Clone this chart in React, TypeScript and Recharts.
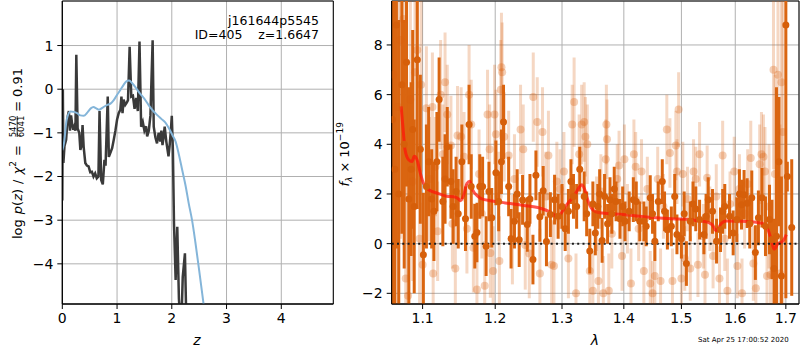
import React from 'react';
import {
  ComposedChart,
  Line,
  Scatter,
  ErrorBar,
  XAxis,
  YAxis,
  CartesianGrid,
  ReferenceLine,
  ReferenceArea,
} from 'recharts';

const FONT = '"DejaVu Sans", Verdana, sans-serif';

// ---- Left panel: log p(z) ----
const pzZ = [0.0, 0.01, 0.02, 0.04, 0.07, 0.1, 0.12, 0.14, 0.16, 0.18, 0.2, 0.22, 0.24, 0.256, 0.28, 0.31, 0.33, 0.35, 0.37, 0.39, 0.42, 0.45, 0.48, 0.51, 0.54, 0.57, 0.6, 0.63, 0.66, 0.68, 0.71, 0.74, 0.77, 0.79, 0.83, 0.85, 0.88, 0.91, 0.94, 0.97, 1.0, 1.03, 1.06, 1.08, 1.1, 1.12, 1.15, 1.18, 1.2, 1.23, 1.26, 1.29, 1.32, 1.35, 1.38, 1.41, 1.44, 1.47, 1.5, 1.53, 1.55, 1.58, 1.61, 1.65, 1.67, 1.7, 1.73, 1.76, 1.79, 1.81, 1.83, 1.85, 1.87, 1.9, 1.94, 1.96, 1.98, 2.0, 2.02, 2.04, 2.07, 2.1, 2.13, 2.17, 2.2, 2.24, 2.27, 2.35];
const pzLog = [-2.55, 0.0, -1.69, -1.3, -1.16, -0.62, -0.5, -0.95, -0.6, -0.8, -0.93, -0.85, -0.95, 0.79, -0.9, -1.0, -1.39, -1.3, -0.82, -1.32, -1.69, -1.75, -1.77, -1.9, -1.89, -2.0, -1.93, -2.04, -2.0, -0.5, -2.08, -2.18, -1.62, -1.75, -0.17, -1.55, -1.45, -1.35, -1.16, -0.95, -0.7, -0.55, -0.47, -0.17, -0.55, -0.24, -0.36, -0.3, -0.25, 0.97, -0.17, -0.15, -0.45, -0.2, -0.5, 1.09, -0.86, -0.75, -0.95, -0.85, -1.08, -0.95, -0.6, 1.12, -0.86, -1.1, -1.24, -1.0, -1.2, -0.95, -1.28, -1.1, -0.86, -1.2, -1.54, -1.3, -1.0, -0.61, -1.4, -3.07, -4.37, -3.15, -4.8, -5.6, -4.3, -3.76, -5.6, -6.0];

const fitZ = [0.0, 0.03, 0.08, 0.15, 0.21, 0.27, 0.33, 0.39, 0.46, 0.52, 0.57, 0.62, 0.67, 0.74, 0.82, 0.88, 0.94, 1.0, 1.06, 1.12, 1.17, 1.22, 1.28, 1.35, 1.42, 1.5, 1.58, 1.66, 1.74, 1.81, 1.88, 1.95, 2.01, 2.07, 2.13, 2.19, 2.25, 2.31, 2.37, 2.43, 2.5, 2.58, 2.64];
const fitLog = [-1.4, -1.24, -0.7, -0.51, -0.52, -0.55, -0.6, -0.61, -0.53, -0.44, -0.41, -0.44, -0.47, -0.42, -0.36, -0.33, -0.25, -0.13, -0.02, 0.1, 0.18, 0.2, 0.13, 0.02, -0.1, -0.22, -0.37, -0.5, -0.6, -0.68, -0.76, -0.9, -1.05, -1.2, -1.5, -1.85, -2.2, -2.62, -3.0, -3.5, -4.15, -4.92, -5.5];

const zTicks = [0, 1, 2, 3, 4];
const pTicks = [-4, -3, -2, -1, 0, 1];

// ---- Right panel: spectrum ----
const darkLam = [1.061, 1.064, 1.066, 1.069, 1.073, 1.076, 1.079, 1.082, 1.085, 1.087, 1.089, 1.093, 1.097, 1.101, 1.105, 1.108, 1.112, 1.115, 1.119, 1.122, 1.127, 1.13, 1.133, 1.138, 1.141, 1.145, 1.148, 1.153, 1.158, 1.163, 1.166, 1.171, 1.174, 1.178, 1.182, 1.187, 1.191, 1.195, 1.201, 1.205, 1.209, 1.212, 1.2195, 1.223, 1.228, 1.232, 1.235, 1.24, 1.247, 1.251, 1.2555, 1.26, 1.266, 1.271, 1.276, 1.282, 1.2885, 1.294, 1.3, 1.305, 1.31, 1.314, 1.318, 1.323, 1.328, 1.335, 1.339, 1.344, 1.349, 1.353, 1.357, 1.36, 1.364, 1.368, 1.373, 1.377, 1.38, 1.384, 1.387, 1.3935, 1.398, 1.402, 1.409, 1.416, 1.421, 1.427, 1.434, 1.438, 1.445, 1.449, 1.453, 1.459, 1.466, 1.47, 1.475, 1.482, 1.488, 1.492, 1.5, 1.505, 1.509, 1.516, 1.521, 1.526, 1.533, 1.541, 1.545, 1.549, 1.557, 1.5645, 1.572, 1.576, 1.58, 1.589, 1.596, 1.603, 1.608, 1.612, 1.617, 1.623, 1.628, 1.632, 1.639, 1.645, 1.652, 1.659, 1.667, 1.672, 1.676, 1.681, 1.686, 1.691, 1.7, 1.703, 1.712];
const darkFlux = [5.0, 3.0, 8.8, 2.0, 6.4, 4.0, 7.3, 1.8, 3.0, 4.6, 1.5, 7.4, 3.8, -0.45, 2.3, 3.3, 1.8, 1.3, 3.3, 5.8, 1.7, 2.6, 3.9, 2.5, 1.5, 2.1, 1.2, 3.3, 1.0, 4.8, 2.3, 0.3, 0.45, 2.3, 2.3, -0.1, 2.1, 1.04, 2.85, 1.7, 3.3, 4.9, 2.3, 0.2, 0.9, 2.0, 0.16, 1.76, 0.77, 1.8, -0.64, 2.75, 1.08, 2.13, 0.09, 1.17, 1.77, 1.1, 1.5, 0.6, 1.3, 2.5, 1.9, 1.5, 3.0, 1.9, 1.2, -0.3, 1.6, 0.43, 1.5, 2.0, 0.13, 1.9, 0.8, 1.77, 1.2, 2.2, 1.7, 1.0, 1.5, 0.9, 1.3, 1.77, 1.7, 0.9, 0.9, 0.7, 1.85, 1.2, 0.1, 1.7, 2.5, 1.3, 0.56, 0.7, 1.9, 0.37, 0.2, 1.2, -0.8, 0.9, 1.6, 1.4, 0.97, 0.37, 1.1, 1.77, 1.3, 0.1, 0.56, 1.3, 1.5, 1.1, 0.43, 0.97, 2.0, 1.57, 1.97, 1.63, 0.8, 1.85, -0.36, 1.04, 1.85, 0.7, 0.97, 0.17, -1.0, 0.3, 3.3, -1.3, 8.8, 2.7, 0.65];
const darkErr = [8, 9, 9, 7, 6, 5, 5, 4.5, 3.5, 4, 3.5, 6, 3, 2.5, 2.5, 2.2, 2, 2, 2, 1.7, 1.8, 1.8, 1.6, 1.5, 1.5, 1.4, 1.4, 1.5, 1.3, 1.6, 1.3, 1.3, 1.2, 1.3, 1.2, 1.2, 1.2, 1.2, 1.3, 1.2, 1.3, 1.5, 1.2, 1.2, 1.1, 1.0, 1.1, 1.0, 1.1, 1.0, 1.0, 1.0, 1.0, 1.0, 1.0, 0.9, 1.0, 0.9, 0.9, 0.9, 0.9, 0.9, 0.9, 0.9, 0.9, 1.0, 0.9, 0.9, 0.9, 0.9, 0.9, 1.0, 0.9, 0.9, 0.8, 0.9, 0.8, 0.9, 0.8, 0.8, 0.8, 0.8, 0.8, 0.9, 0.8, 0.8, 0.8, 0.8, 0.9, 0.8, 0.8, 0.8, 0.9, 0.8, 0.8, 0.8, 0.9, 0.8, 0.8, 0.9, 0.9, 0.8, 0.9, 0.9, 0.8, 0.8, 0.9, 0.9, 0.9, 0.9, 0.9, 0.9, 0.9, 0.9, 0.9, 0.9, 1.0, 1.0, 1.0, 1.0, 1.0, 1.1, 1.1, 1.1, 1.2, 1.2, 1.4, 1.6, 2.0, 6, 2.6, 4, 11, 0.6, 2.75];

const lightLam = [1.062, 1.068, 1.071, 1.075, 1.078, 1.081, 1.084, 1.087, 1.09, 1.093, 1.096, 1.098, 1.1, 1.105, 1.109, 1.113, 1.114, 1.117, 1.12, 1.124, 1.127, 1.13, 1.133, 1.138, 1.14, 1.144, 1.147, 1.152, 1.156, 1.16, 1.163, 1.166, 1.169, 1.174, 1.177, 1.181, 1.185, 1.189, 1.192, 1.193, 1.197, 1.199, 1.201, 1.205, 1.206, 1.208, 1.209, 1.21, 1.213, 1.2195, 1.225, 1.228, 1.237, 1.241, 1.244, 1.25, 1.256, 1.262, 1.266, 1.27, 1.275, 1.279, 1.284, 1.2875, 1.292, 1.297, 1.303, 1.31, 1.316, 1.319, 1.322, 1.327, 1.331, 1.335, 1.337, 1.34, 1.344, 1.349, 1.355, 1.358, 1.362, 1.366, 1.37, 1.371, 1.372, 1.375, 1.38, 1.389, 1.392, 1.397, 1.401, 1.406, 1.412, 1.417, 1.42, 1.425, 1.43, 1.434, 1.44, 1.445, 1.449, 1.453, 1.458, 1.463, 1.468, 1.474, 1.4795, 1.484, 1.49, 1.492, 1.495, 1.5, 1.5025, 1.506, 1.511, 1.516, 1.522, 1.526, 1.53, 1.533, 1.54, 1.543, 1.547, 1.552, 1.558, 1.564, 1.57, 1.576, 1.58, 1.585, 1.59, 1.598, 1.604, 1.608, 1.613, 1.618, 1.624, 1.63, 1.635, 1.64, 1.6475, 1.651, 1.655, 1.658, 1.662, 1.666, 1.669, 1.675, 1.678, 1.684, 1.688, 1.691, 1.694];
const lightFlux = [6.8, 5.5, 8.2, 9.05, -1.4, -2.1, 5.8, 2.5, 6.9, 7.8, 0.2, 6.4, -0.85, 5.45, 2.6, 5.5, -1.2, 3.1, 0.5, 6.0, 3.6, 6.5, 5.2, 3.95, 0.8, -1.0, 4.35, 4.3, 3.5, 0.6, 6.0, 4.8, -0.17, -1.85, 2.8, 1.2, -1.7, 5.2, 3.8, -0.38, -1.1, 5.2, 4.4, 1.9, -0.7, 6.2, 7.1, 6.9, 4.3, 3.55, 0.16, 2.6, 4.6, 3.8, -0.05, -0.4, 5.9, 4.9, -1.2, 4.5, 1.9, 3.55, -0.85, -0.9, 2.5, 2.2, 2.9, -0.6, 4.8, 5.7, -2.0, 3.6, 4.8, 4.9, 4.3, 4.0, -1.1, -1.9, 1.2, -1.5, 2.1, -2.0, 3.4, 4.8, 4.2, -1.9, 0.4, 2.6, 3.15, -0.5, 3.4, 1.0, -1.6, 3.6, 3.1, 0.6, 2.9, -1.1, 2.2, -1.6, -2.0, -1.3, 2.6, -1.5, 1.5, 4.6, 3.65, -1.5, 3.95, 2.9, 5.4, -1.4, 2.8, -0.6, 1.8, -1.0, 2.9, 2.6, -0.85, 3.6, 0.3, -1.25, 2.65, 1.0, -0.5, 1.9, -1.4, 3.55, 0.2, -1.9, 1.6, 2.9, -0.9, 2.2, -2.0, 1.2, 2.4, 3.45, -0.8, -1.8, 3.2, 3.6, 3.5, 2.9, -1.3, 1.5, -1.25, 7.0, 2.8, 6.8, -1.2, 6.5, 4.5];
const lightErr = [9, 8, 8, 7, 5, 5, 4, 4, 4, 4, 3, 3.5, 2.5, 2.5, 2.5, 2.2, 2.2, 2, 2, 2.2, 2, 2, 2, 2, 1.8, 2, 2, 2, 1.8, 1.8, 2, 1.8, 1.8, 1.8, 1.8, 1.8, 1.8, 1.8, 1.8, 1.8, 1.8, 2, 1.8, 1.8, 1.8, 2, 2.2, 2, 1.8, 1.8, 1.8, 1.8, 1.8, 1.8, 1.8, 1.8, 1.8, 1.8, 1.8, 1.8, 1.8, 1.8, 1.8, 1.8, 1.6, 1.6, 1.6, 1.6, 1.6, 1.8, 1.6, 1.6, 1.6, 1.6, 1.6, 1.6, 1.6, 1.6, 1.5, 1.5, 1.5, 1.5, 1.6, 1.6, 1.6, 1.5, 1.4, 1.4, 1.4, 1.4, 1.4, 1.4, 1.4, 1.4, 1.4, 1.3, 1.3, 1.3, 1.3, 1.3, 1.3, 1.3, 1.3, 1.3, 1.3, 1.4, 1.4, 1.3, 1.4, 1.3, 1.5, 1.3, 1.3, 1.3, 1.3, 1.3, 1.3, 1.3, 1.3, 1.3, 1.3, 1.3, 1.3, 1.3, 1.3, 1.3, 1.3, 1.4, 1.3, 1.3, 1.3, 1.4, 1.3, 1.4, 1.4, 1.4, 1.4, 1.5, 1.5, 1.5, 1.6, 1.7, 1.7, 1.8, 2, 2.5, 3, 4, 4, 6, 6, 7, 8];

const modelLam = [1.072, 1.075, 1.077, 1.0817, 1.0862, 1.089, 1.0927, 1.097, 1.101, 1.108, 1.119, 1.132, 1.1435, 1.148, 1.151, 1.155, 1.16, 1.164, 1.168, 1.175, 1.181, 1.193, 1.2145, 1.2415, 1.266, 1.2795, 1.287, 1.2925, 1.297, 1.3075, 1.32, 1.328, 1.331, 1.336, 1.3415, 1.352, 1.364, 1.3985, 1.427, 1.455, 1.483, 1.515, 1.524, 1.539, 1.552, 1.558, 1.563, 1.567, 1.574, 1.583, 1.6085, 1.641, 1.654, 1.664, 1.6705, 1.676, 1.684, 1.694, 1.701];
const modelFlux = [5.53, 4.46, 3.79, 3.38, 3.31, 3.52, 3.38, 2.84, 2.44, 2.17, 2.04, 1.91, 1.88, 1.81, 1.73, 1.91, 2.42, 2.51, 2.17, 1.91, 1.8, 1.73, 1.64, 1.54, 1.43, 1.3, 1.17, 1.07, 1.17, 1.57, 1.97, 2.3, 2.37, 2.17, 1.7, 1.3, 1.23, 1.17, 1.1, 1.04, 1.0, 0.97, 0.94, 0.9, 0.83, 0.72, 0.52, 0.59, 0.83, 0.91, 0.9, 0.86, 0.81, 0.56, 0.16, -0.22, 0.0, 0.1, 0.36];

const lamTicks = [1.1, 1.2, 1.3, 1.4, 1.5, 1.6, 1.7];
const fluxTicks = [-2, 0, 2, 4, 6, 8];

const Z_DOMAIN: [number, number] = [0, 4.95];
const P_DOMAIN: [number, number] = [-4.92, 2.02];
const L_DOMAIN: [number, number] = [1.06, 1.727];
const F_DOMAIN: [number, number] = [-2.43, 9.77];

// right chart layout
const R_W = 460;
const R_H = 350;
const R_MARGIN = { top: 1, right: 1, bottom: 16, left: 21.7 };
const R_YAXIS_W = 30;
const R_XAXIS_H = 30;
const R_PLOT = {
  x: R_MARGIN.left + R_YAXIS_W,
  y: R_MARGIN.top,
  w: R_W - R_MARGIN.left - R_YAXIS_W - R_MARGIN.right,
  h: R_H - R_MARGIN.top - R_MARGIN.bottom - R_XAXIS_H,
};

const minusFmt = (v: number) => (v < 0 ? '\u2212' + Math.abs(v) : String(v));
const tickStyle = { fill: '#000', fontSize: 14, fontFamily: FONT };

const lightDot = (p: any) => (
  <circle cx={p.cx} cy={p.cy} r={4} fill="rgba(217,95,14,0.3)" />
);
const darkDot = (p: any) => (
  <circle cx={p.cx} cy={p.cy} r={3.5} fill="#d65f0a" />
);

export default function App() {
  const pzData = pzZ.map((z, i) => ({ z, v: pzLog[i] }));
  const fitData = fitZ.map((z, i) => ({ z, v: fitLog[i] }));
  const darkData = darkLam.map((lam, i) => ({ lam, f: darkFlux[i], e: darkErr[i] }));
  const lightData = lightLam.map((lam, i) => ({ lam, f: lightFlux[i], e: lightErr[i] }));
  const modelData = modelLam.map((lam, i) => ({ lam, f: modelFlux[i] }));

  return (
    <div style={{ position: 'absolute', left: 0, top: 0, width: 800, height: 350, background: '#fff', fontFamily: FONT }}>
      <style>{`.spec .recharts-errorBars, .spec .recharts-errorBar { clip-path: url(#specClip); }`}</style>
      <svg width={0} height={0} style={{ position: 'absolute' }}>
        <defs>
          <clipPath id="specClip" clipPathUnits="userSpaceOnUse">
            <rect x={R_PLOT.x} y={R_PLOT.y} width={R_PLOT.w} height={R_PLOT.h} />
          </clipPath>
        </defs>
      </svg>

      <div style={{ position: 'absolute', left: 0, top: 0 }}>
        <ComposedChart width={340} height={350} margin={{ top: 1, right: 6.7, bottom: 16, left: 12.3 }}>
          <CartesianGrid stroke="#b0b0b0" strokeWidth={1} />
          <XAxis
            dataKey="z"
            type="number"
            domain={Z_DOMAIN}
            ticks={zTicks}
            allowDataOverflow
            height={30}
            tickSize={5}
            tickMargin={4}
            tick={tickStyle}
            stroke="#000"
          />
          <YAxis
            type="number"
            domain={P_DOMAIN}
            ticks={pTicks}
            allowDataOverflow
            width={50}
            tickSize={5}
            tickMargin={4}
            tick={tickStyle}
            tickFormatter={minusFmt}
            stroke="#000"
          />
          <Line data={pzData} dataKey="v" type="linear" stroke="#3a3a3a" strokeWidth={2.5} dot={false} isAnimationActive={false} />
          <Line data={fitData} dataKey="v" type="monotone" stroke="#84b5d9" strokeWidth={2} dot={false} isAnimationActive={false} />
          <ReferenceArea x1={Z_DOMAIN[0]} x2={Z_DOMAIN[1]} y1={P_DOMAIN[0]} y2={P_DOMAIN[1]} fill="none" fillOpacity={0} stroke="#000" strokeWidth={1} ifOverflow="visible" />
        </ComposedChart>
      </div>

      <div className="spec" style={{ position: 'absolute', left: 340, top: 0 }}>
        <ComposedChart width={R_W} height={R_H} margin={R_MARGIN}>
          <CartesianGrid stroke="#b0b0b0" strokeWidth={1} />
          <XAxis
            dataKey="lam"
            type="number"
            scale="log"
            domain={L_DOMAIN}
            ticks={lamTicks}
            allowDataOverflow
            height={R_XAXIS_H}
            tickSize={5}
            tickMargin={4}
            tick={tickStyle}
            tickFormatter={(v: number) => v.toFixed(1)}
            stroke="#000"
          />
          <YAxis
            type="number"
            domain={F_DOMAIN}
            ticks={fluxTicks}
            allowDataOverflow
            width={R_YAXIS_W}
            tickSize={5}
            tickMargin={4}
            tick={tickStyle}
            tickFormatter={minusFmt}
            stroke="#000"
          />
          <Scatter data={lightData} dataKey="f" shape={lightDot} isAnimationActive={false}>
            <ErrorBar dataKey="e" direction="y" width={0} stroke="rgba(217,95,14,0.25)" strokeWidth={3} />
          </Scatter>
          <Scatter data={darkData} dataKey="f" shape={darkDot} isAnimationActive={false}>
            <ErrorBar dataKey="e" direction="y" width={0} stroke="#da6510" strokeWidth={3} />
          </Scatter>
          <Line data={modelData} dataKey="f" type="monotone" stroke="rgba(255,20,10,0.72)" strokeWidth={3} dot={false} isAnimationActive={false} />
          <ReferenceLine y={0} stroke="#1a1a1a" strokeWidth={2} strokeDasharray="2 3.3" />
          <ReferenceArea x1={L_DOMAIN[0]} x2={L_DOMAIN[1]} y1={F_DOMAIN[0]} y2={F_DOMAIN[1]} fill="none" fillOpacity={0} stroke="#000" strokeWidth={1} ifOverflow="visible" />
        </ComposedChart>
      </div>

      <svg width={800} height={350} style={{ position: 'absolute', left: 0, top: 0, pointerEvents: 'none' }} fontFamily={FONT}>
        <text x={319} y={24.5} textAnchor="end" fontSize={12.5} fill="#000">j161644p5545</text>
        <text x={319} y={38.5} textAnchor="end" fontSize={12.5} fill="#000" style={{ whiteSpace: 'pre' }}>ID=405    z=1.6647</text>
        <text x={197} y={345} textAnchor="middle" fontSize={14} fontStyle="italic" fill="#000">z</text>
        <text x={595} y={345} textAnchor="middle" fontSize={14} fontStyle="italic" fill="#000">λ</text>
        <text x={698} y={342} fontSize={7} fill="#000">Sat Apr 25 17:00:52 2020</text>

        <g transform="translate(21.5,153) rotate(-90)">
          <text x={-86} y={0} fontSize={13} fill="#000">
            <tspan>log</tspan>
            <tspan dx={5} fontStyle="italic">p</tspan>
            <tspan>(</tspan>
            <tspan fontStyle="italic">z</tspan>
            <tspan>)</tspan>
            <tspan dx={5}>/</tspan>
            <tspan dx={5} fontStyle="italic">χ</tspan>
            <tspan fontSize={9} dy={-6}>2</tspan>
            <tspan dy={6} dx={5}>=</tspan>
          </text>
          <text x={26.5} y={-5.5} fontSize={8.5} textAnchor="middle" fill="#000">5470</text>
          <line x1={16} x2={37} y1={-4.3} y2={-4.3} stroke="#000" strokeWidth={0.8} />
          <text x={26.5} y={2.5} fontSize={8.5} textAnchor="middle" fill="#000">6041</text>
          <text x={85} y={0} fontSize={13} textAnchor="end" fill="#000">
            <tspan>=</tspan>
            <tspan dx={4}>0.91</tspan>
          </text>
        </g>

        <g transform="translate(349,155) rotate(-90)">
          <text x={-31.5} y={0} fontSize={13} fill="#000">
            <tspan fontStyle="italic">f</tspan>
            <tspan fontSize={9} dy={3} fontStyle="italic">λ</tspan>
            <tspan dy={-3} dx={4}>×</tspan>
            <tspan dx={4}>10</tspan>
            <tspan fontSize={9} dy={-6}>−19</tspan>
          </text>
        </g>
      </svg>
    </div>
  );
}
